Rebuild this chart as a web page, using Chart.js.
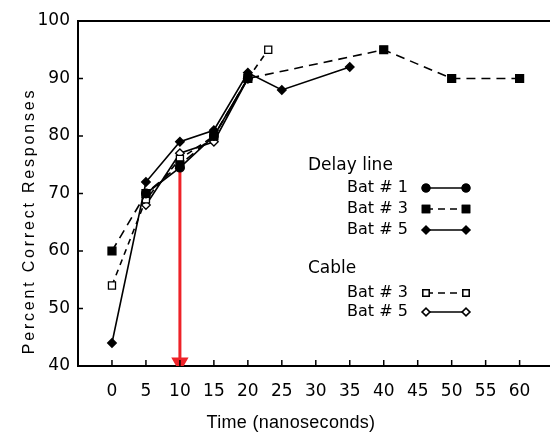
<!DOCTYPE html>
<html>
<head>
<meta charset="utf-8">
<script src="https://cdn.jsdelivr.net/npm/chart.js@4.4.1/dist/chart.umd.min.js"></script>
<style>
  html, body { margin: 0; padding: 0; background: #fff; }
  #wrap { width: 550px; height: 434px; position: relative; }
</style>
</head>
<body>
<div id="wrap"><canvas id="batChart"></canvas></div>
<script>
// values (time in ns, percent correct)
const delayBat1X = [5, 10, 15, 20];
const delayBat1Y = [70, 74.5, 80, 90];
const delayBat3X = [0, 5, 10, 15, 20, 40, 50, 60];
const delayBat3Y = [60, 70, 75, 80, 90, 95, 90, 90];
const delayBat5X = [0, 5, 10, 15, 20, 25, 35];
const delayBat5Y = [44, 72, 79, 81, 91, 88, 92];
const cableBat3X = [0, 5, 10, 15, 20, 23];
const cableBat3Y = [54, 69, 76, 80, 90, 95];
const cableBat5X = [5, 10, 15, 20];
const cableBat5Y = [68, 77, 79, 90];
const arrowX = [10, 10];
const arrowY = [75, 40.6];
const xTicks = [0, 5, 10, 15, 20, 25, 30, 35, 40, 45, 50, 55, 60];
const yTicks = [40, 50, 60, 70, 80, 90, 100];
const xTitle = 'Time (nanoseconds)';
const yTitle = 'Percent Correct Responses';

const FONT = '"DejaVu Sans", Verdana, sans-serif';
const SANS = '"Liberation Sans", Arial, sans-serif';
const pts = (xs, ys) => xs.map((x, i) => ({x: x, y: ys[i]}));

const frame = {
    id: 'frame',
    afterDraw(chart) {
        const ctx = chart.ctx, a = chart.chartArea;
        const sx = chart.scales.x, sy = chart.scales.y;
        ctx.save();
        ctx.strokeStyle = '#000';
        ctx.lineWidth = 2;
        // top rule and bottom axis run to the edge of the picture
        ctx.beginPath();
        ctx.moveTo(a.left, a.top);
        ctx.lineTo(chart.width, a.top);
        ctx.moveTo(a.right - 1, a.bottom);
        ctx.lineTo(chart.width, a.bottom);
        ctx.stroke();
        ctx.lineWidth = 1.5;
        xTicks.forEach(v => {
            const px = sx.getPixelForValue(v);
            ctx.beginPath();
            ctx.moveTo(px, a.bottom);
            ctx.lineTo(px, a.bottom - 6);
            ctx.stroke();
        });
        yTicks.forEach(v => {
            const py = sy.getPixelForValue(v);
            ctx.beginPath();
            ctx.moveTo(a.left, py);
            ctx.lineTo(a.left + 5, py);
            ctx.stroke();
        });

        // axis titles (the original lettering is spaced out)
        ctx.fillStyle = '#000';
        ctx.textAlign = 'center';
        ctx.textBaseline = 'middle';
        ctx.font = '18px ' + SANS;
        ctx.letterSpacing = '0.3px';
        ctx.fillText(xTitle, 291, 423);
        ctx.save();
        ctx.translate(30, 221);
        ctx.rotate(-Math.PI / 2);
        ctx.font = '16px ' + SANS;
        ctx.letterSpacing = '2.8px';
        ctx.fillText(yTitle, 0, 0);
        ctx.restore();
        ctx.letterSpacing = '0px';
        ctx.textAlign = 'left';

        // legend
        ctx.font = '17px ' + FONT;
        ctx.fillText('Delay line', 308, 166);
        ctx.fillText('Cable', 308, 269);
        ctx.font = '16px ' + FONT;
        const rows = [
            {label: 'Bat # 1', y: 188, style: 'circle', r: 3.8, fill: '#000', dash: []},
            {label: 'Bat # 3', y: 209, style: 'rect', r: 5, fill: '#000', dash: [7, 5]},
            {label: 'Bat # 5', y: 230, style: 'rectRot', r: 3.8, fill: '#000', dash: []},
            {label: 'Bat # 3', y: 293, style: 'rect', r: 4.5, fill: '#fff', dash: [7, 5]},
            {label: 'Bat # 5', y: 312, style: 'rectRot', r: 3.8, fill: '#fff', dash: []}
        ];
        rows.forEach(r => {
            ctx.fillStyle = '#000';
            ctx.fillText(r.label, 347, r.y);
            ctx.setLineDash(r.dash);
            ctx.lineWidth = 1.5;
            ctx.beginPath();
            ctx.moveTo(426, r.y);
            ctx.lineTo(466, r.y);
            ctx.stroke();
            ctx.setLineDash([]);
            [426, 466].forEach(px => {
                Chart.helpers.drawPoint(ctx, {pointStyle: r.style, radius: r.r, borderWidth: 1.3}, px, r.y);
                ctx.fillStyle = r.fill;
                ctx.fill();
                ctx.stroke();
            });
        });
        ctx.restore();
    }
};

const line = (data, style, radius, fill, dash) => ({
    data: data,
    borderColor: '#000',
    borderWidth: 1.6,
    borderDash: dash,
    pointStyle: style,
    pointRadius: radius,
    pointBackgroundColor: fill,
    pointBorderColor: '#000',
    pointBorderWidth: 1.3,
    tension: 0,
    fill: false
});

new Chart(document.getElementById('batChart'), {
    type: 'scatter',
    data: {
        datasets: [
            line(pts(delayBat1X, delayBat1Y), 'circle', 4.3, '#000', []),
            line(pts(delayBat3X, delayBat3Y), 'rect', 5.6, '#000', [9, 6]),
            line(pts(delayBat5X, delayBat5Y), 'rectRot', 4.3, '#000', []),
            line(pts(cableBat3X, cableBat3Y), 'rect', 5, '#fff', [6, 5]),
            line(pts(cableBat5X, cableBat5Y), 'rectRot', 4.3, '#fff', []),
            {
                data: pts(arrowX, arrowY),
                borderColor: '#ee2228',
                borderWidth: 3,
                pointStyle: 'triangle',
                rotation: 180,
                pointRadius: [0, 7],
                pointBackgroundColor: '#ee2228',
                pointBorderColor: '#ee2228',
                showLine: true
            }
        ]
    },
    options: {
        responsive: true,
        maintainAspectRatio: false,
        animation: false,
        showLine: true,
        layout: {padding: {left: 0, right: 0, top: 21, bottom: 0}},
        plugins: {legend: {display: false}, tooltip: {enabled: false}},
        scales: {
            x: {
                type: 'linear',
                min: -5,
                max: 63,
                afterBuildTicks: s => { s.ticks = xTicks.map(v => ({value: v})); },
                afterFit: s => { s.height = 68; },
                grid: {display: false, drawTicks: false, tickLength: 0},
                border: {color: '#000', width: 2},
                ticks: {color: '#000', padding: 15, maxRotation: 0,
                        font: {size: 17, family: FONT}}
            },
            y: {
                min: 40,
                max: 100,
                afterBuildTicks: s => { s.ticks = yTicks.map(v => ({value: v})); },
                afterFit: s => { s.width = 78; },
                grid: {display: false, drawTicks: false, tickLength: 0},
                border: {color: '#000', width: 2},
                ticks: {color: '#000', padding: 8,
                        font: {size: 17, family: FONT}}
            }
        }
    },
    plugins: [frame]
});
</script>
</body>
</html>
